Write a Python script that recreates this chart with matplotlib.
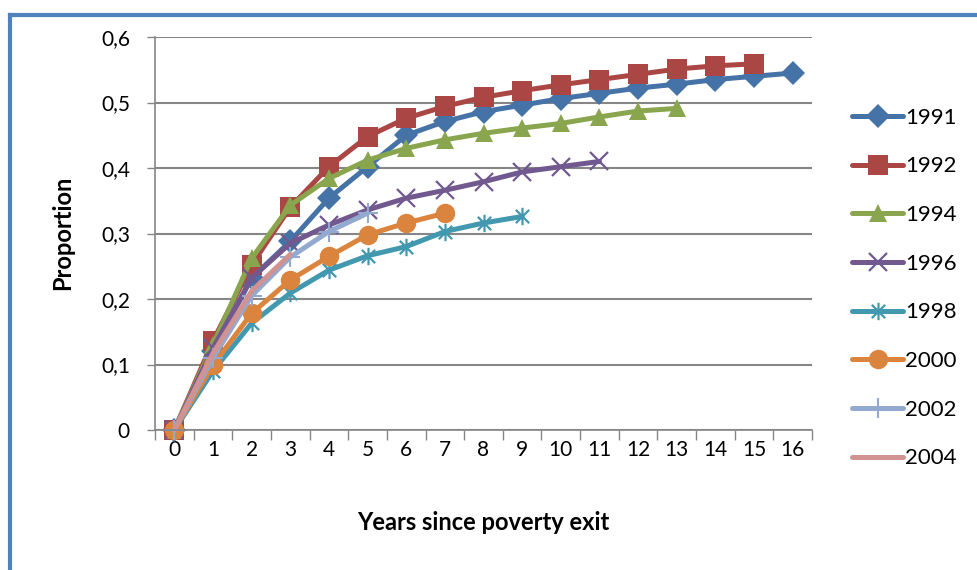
import matplotlib
matplotlib.use("Agg")
import matplotlib.pyplot as plt
from matplotlib.path import Path
from matplotlib.lines import Line2D
import numpy as np

plt.rcParams['font.family'] = ['Lato', 'DejaVu Sans']

years = list(range(17))
tick_labels = [str(y) for y in years]
y_ticks = [0, 0.1, 0.2, 0.3, 0.4, 0.5, 0.6]
y_tick_labels = ['0', '0,1', '0,2', '0,3', '0,4', '0,5', '0,6']

s1991 = [0, 0.12, 0.232, 0.288, 0.354, 0.402, 0.450, 0.471, 0.486, 0.496, 0.506, 0.514, 0.522, 0.528, 0.535, 0.540, 0.545]
s1992 = [0, 0.136, 0.252, 0.340, 0.402, 0.448, 0.476, 0.494, 0.508, 0.518, 0.527, 0.535, 0.543, 0.551, 0.556, 0.559]
s1994 = [0, 0.13, 0.262, 0.343, 0.384, 0.412, 0.430, 0.443, 0.453, 0.461, 0.468, 0.478, 0.487, 0.491]
s1996 = [0, 0.125, 0.232, 0.285, 0.313, 0.336, 0.354, 0.366, 0.379, 0.394, 0.402, 0.410]
s1998 = [0, 0.090, 0.163, 0.209, 0.244, 0.266, 0.280, 0.303, 0.316, 0.326]
s2000 = [0, 0.099, 0.178, 0.229, 0.265, 0.298, 0.316, 0.331]
s2002 = [0, 0.11, 0.205, 0.264, 0.303, 0.331]
s2004 = [0, 0.117, 0.212, 0.268]

labels = ['1991', '1992', '1994', '1996', '1998', '2000', '2002', '2004']
series = [s1991, s1992, s1994, s1996, s1998, s2000, s2002, s2004]
colors = ['#4572A7', '#AA4643', '#89A54E', '#71588F', '#4198AF', '#DB843D', '#93A9CF', '#D19392']

# asterisk marker: x plus vertical bar
ast = Path([(-1, -1), (1, 1), (-1, 1), (1, -1), (0, -1.3), (0, 1.3)],
           [Path.MOVETO, Path.LINETO, Path.MOVETO, Path.LINETO, Path.MOVETO, Path.LINETO])

markers = ['D', 's', '^', 'x', ast, 'o', '+', None]
msizes = [12, 14, 13, 13, 12.5, 14, 14, 0]
mews = [0, 0, 0, 1.6, 1.6, 0, 1.5, 0]

fig = plt.figure(figsize=(9.77, 5.70), dpi=100)
ax = fig.add_axes([155/977, 1-430/570, (812-155)/977, (430-37)/570])

for lab, s, c, m, ms, mew in zip(labels, series, colors, markers, msizes, mews):
    x = years[:len(s)]
    ax.plot(x, s, color=c, lw=3.6, marker=m, ms=ms, mew=mew, mec=c, mfc=c,
            label=lab, solid_capstyle='round', solid_joinstyle='round', clip_on=False)

ax.set_xlim(-0.5, 16.5)
ax.set_ylim(0, 0.6)
ax.set_yticks(y_ticks)
ax.set_yticklabels(y_tick_labels)
ax.set_xticks(years)
ax.set_xticklabels(tick_labels)
ax.set_xticks(np.arange(-0.5, 17, 1), minor=True)
ax.tick_params(axis='x', which='major', length=0, pad=7, labelsize=15)
ax.tick_params(axis='x', which='minor', length=7, color='#868686', width=1)
ax.tick_params(axis='y', length=6, color='#868686', width=1, labelsize=15, pad=12)

ax.yaxis.grid(True, color='#868686', lw=1.5)
ax.set_axisbelow(True)
for sp in ['top', 'right']:
    ax.spines[sp].set_visible(False)
for sp in ['left', 'bottom']:
    ax.spines[sp].set_color('#868686')
    ax.spines[sp].set_linewidth(1.2)

ax.set_xlabel('Years since poverty exit', fontsize=17, fontweight='bold', va='center')
ax.xaxis.set_label_coords((483-155)/657, (430-523)/393)
ax.set_ylabel('Proportion', fontsize=17, fontweight='bold', va='center')
ax.yaxis.set_label_coords((63-155)/657, (430-233)/393)

leg = ax.legend(loc='center left', bbox_to_anchor=((852-155)/657, (430-288)/393),
                frameon=False, fontsize=16, handlelength=2.3, handletextpad=0.1,
                labelspacing=1.29, borderpad=0, borderaxespad=0)

# blue frame around figure (left and top visible)
fig.add_artist(Line2D([10/977, 10/977], [-0.05, 1-15/570], transform=fig.transFigure,
                      color='#4F81BD', lw=3))
fig.add_artist(Line2D([10/977, 1.05], [1-15/570, 1-15/570], transform=fig.transFigure,
                      color='#4F81BD', lw=3))

fig.savefig('out.png', dpi=100)
